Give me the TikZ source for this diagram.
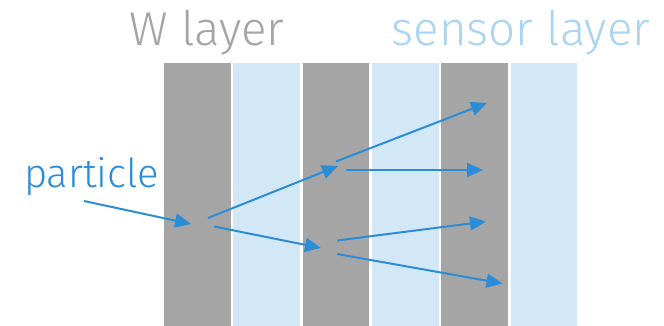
\documentclass[tikz,border=0pt]{standalone}
\usepackage{fontspec}
\setmainfont{Fira Sans Light}
\usetikzlibrary{arrows.meta}
\definecolor{wgray}{HTML}{A5A5A5}
\definecolor{sblue}{HTML}{D3E8F6}
\definecolor{stext}{HTML}{A9D4F2}
\definecolor{pblue}{HTML}{2B8DD8}
\tikzset{
  wstrip/.style={fill=wgray, draw=none},
  sstrip/.style={fill=sblue, draw=none},
  track/.style={draw=pblue, line width=2pt, -{Triangle[length=16pt,width=14pt]}},
  lbl/.style={anchor=base west, inner sep=0pt, outer sep=0pt},
  pt/.style={inner sep=0pt, outer sep=0pt, minimum size=0pt}
}
\begin{document}
\begin{tikzpicture}[x=1pt,y=-1pt]
\useasboundingbox (0,0) rectangle (664,326);
% strips
\fill[wstrip] (164,62.7) rectangle (230.7,326);
\fill[sstrip] (233.4,62.7) rectangle (300.1,326);
\fill[wstrip] (302.7,62.7) rectangle (369.4,326);
\fill[sstrip] (372.1,62.7) rectangle (438.8,326);
\fill[wstrip] (441.4,62.7) rectangle (508.1,326);
\fill[sstrip] (510.8,62.7) rectangle (577.0,326);
% labels
\node[lbl, text=wgray, font=\fontsize{47.5}{52}\selectfont] (wl) at (129.5,46) {W layer};
\node[lbl, text=stext, font=\fontsize{47.5}{52}\selectfont] (sl) at (391.5,46) {sensor layer};
\node[lbl, text=pblue, font=\fontsize{40}{45}\selectfont] (pl) at (24,187.3) {particle};
% track points
\coordinate (p0) at (84,201);
\coordinate (p1) at (191,224);
\coordinate (a0) at (208,218);
\coordinate (a1) at (338,166);
\coordinate (b0) at (214,226.5);
\coordinate (b1) at (321,248);
\coordinate (c0) at (336,161.5);
\coordinate (c1) at (487,103);
\coordinate (d0) at (346,170);
\coordinate (d1) at (483,170);
\coordinate (e0) at (337,240.5);
\coordinate (e1) at (486,221.5);
\coordinate (f0) at (337,254);
\coordinate (f1) at (502.5,283.5);
\draw[track] (p0) -- (p1);
\draw[track] (a0) -- (a1);
\draw[track] (b0) -- (b1);
\draw[track] (c0) -- (c1);
\draw[track] (d0) -- (d1);
\draw[track] (e0) -- (e1);
\draw[track] (f0) -- (f1);
\end{tikzpicture}
\end{document}
